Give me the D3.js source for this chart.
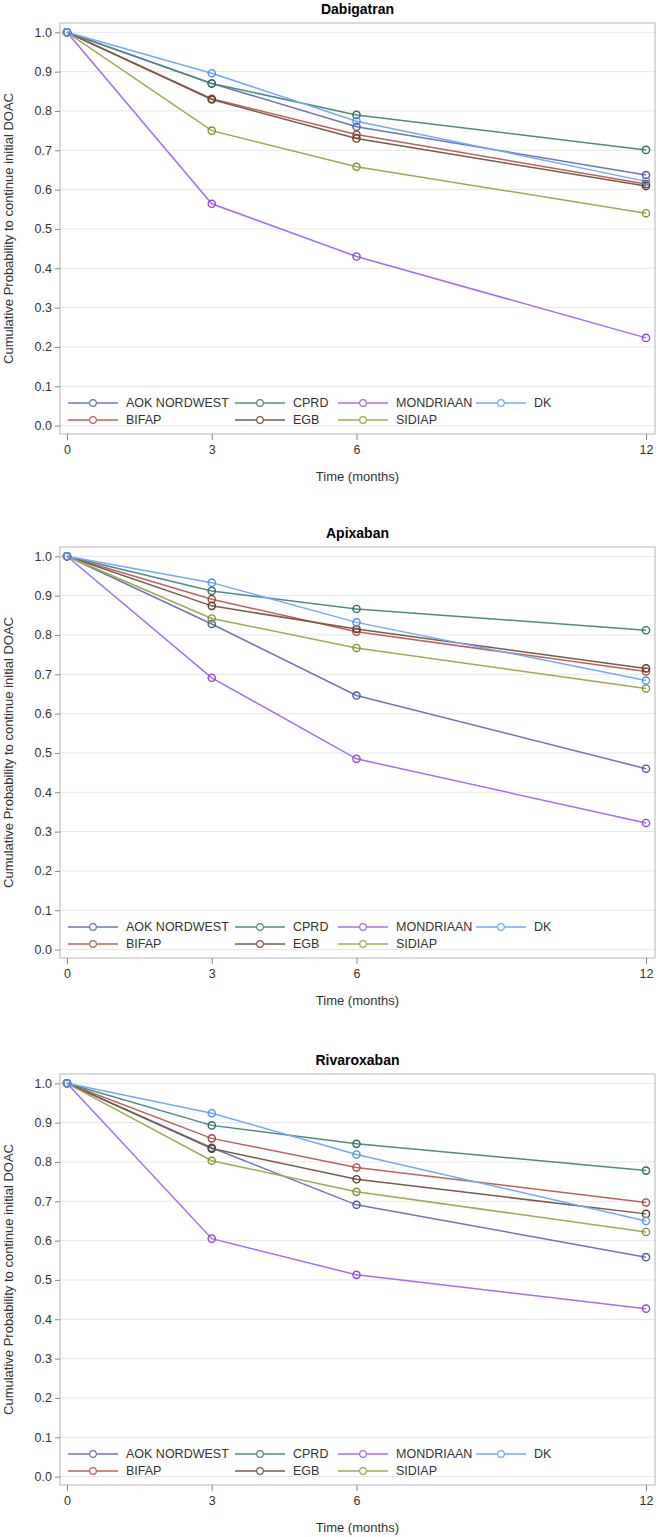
<!DOCTYPE html>
<html><head><meta charset="utf-8">
<script src="https://cdn.jsdelivr.net/npm/d3@7"></script>
<style>body{margin:0;background:#fff}svg{display:block}text{font-family:"Liberation Sans",Arial,sans-serif}</style>
</head><body>
<script>
const months = [0, 3, 6, 12];
const xTicks = [0, 3, 6, 12];
const yTicks = [0, 0.1, 0.2, 0.3, 0.4, 0.5, 0.6, 0.7, 0.8, 0.9, 1.0];
const seriesNames = ["AOK NORDWEST", "BIFAP", "CPRD", "EGB", "MONDRIAAN", "SIDIAP", "DK"];
const lineColors = ["#6a77b2", "#b8645d", "#4f8b80", "#7a5a48", "#a56ded", "#9cab52", "#72aaf7"];
const markerColors = ["#4d5a98", "#a5463c", "#2f6f66", "#5e3d22", "#9448dc", "#84932c", "#4b94f5"];
const drugs = ["Dabigatran", "Apixaban", "Rivaroxaban"];
// rows follow seriesNames order, columns follow months
const dabigatranValues = [
  [1, 0.870, 0.760, 0.637],
  [1, 0.831, 0.740, 0.614],
  [1, 0.870, 0.790, 0.701],
  [1, 0.829, 0.730, 0.609],
  [1, 0.564, 0.430, 0.223],
  [1, 0.750, 0.658, 0.540],
  [1, 0.896, 0.774, 0.621]
];
const apixabanValues = [
  [1, 0.828, 0.646, 0.460],
  [1, 0.891, 0.808, 0.707],
  [1, 0.912, 0.866, 0.812],
  [1, 0.874, 0.815, 0.715],
  [1, 0.691, 0.485, 0.322],
  [1, 0.842, 0.767, 0.664],
  [1, 0.933, 0.832, 0.684]
];
const rivaroxabanValues = [
  [1, 0.836, 0.691, 0.558],
  [1, 0.860, 0.786, 0.697],
  [1, 0.893, 0.846, 0.778],
  [1, 0.834, 0.756, 0.668],
  [1, 0.605, 0.513, 0.427],
  [1, 0.803, 0.724, 0.622],
  [1, 0.924, 0.819, 0.650]
];
const allValues = [dabigatranValues, apixabanValues, rivaroxabanValues];

const W = 660, H = 1537;
const svg = d3.select("body").append("svg").attr("width", W).attr("height", H);
const panelOffsets = [0, 524, 1051];
const frameL = 60, frameR = 655;

const x = d3.scaleLinear().domain([0, 12]).range([67, 646]);

drugs.forEach((drug, p) => {
  const off = panelOffsets[p];
  const g = svg.append("g").attr("transform", `translate(0,${off})`);
  const frameT = 23, frameB = 434;
  const y = d3.scaleLinear().domain([0, 1]).range([425.6, 32.3]);

  g.append("text").attr("x", (frameL + frameR) / 2).attr("y", 14)
    .attr("text-anchor", "middle").attr("font-size", 14).attr("font-weight", "bold")
    .attr("fill", "#000").text(drug);

  // gridlines
  g.append("g").selectAll("line").data(yTicks).join("line")
    .attr("x1", frameL).attr("x2", frameR)
    .attr("y1", d => y(d)).attr("y2", d => y(d))
    .attr("stroke", "#e6e6e6").attr("stroke-width", 1);

  // frame
  g.append("rect").attr("x", frameL).attr("y", frameT)
    .attr("width", frameR - frameL).attr("height", frameB - frameT)
    .attr("fill", "none").attr("stroke", "#b5b5b5").attr("stroke-width", 1);

  // y axis
  const yAxis = d3.axisLeft(y).tickValues(yTicks).tickFormat(d3.format(".1f")).tickSize(5).tickPadding(3);
  const ya = g.append("g").attr("transform", `translate(${frameL},0)`).call(yAxis);
  ya.select(".domain").remove();
  ya.selectAll("line").attr("stroke", "#888");
  ya.selectAll("text").attr("font-size", 12.5).attr("fill", "#333").style("font-family", '"Liberation Sans",Arial,sans-serif');

  // x axis
  const xAxis = d3.axisBottom(x).tickValues(xTicks).tickFormat(d3.format("d")).tickSize(6).tickPadding(5);
  const xa = g.append("g").attr("transform", `translate(0,${frameB})`).call(xAxis);
  xa.select(".domain").remove();
  xa.selectAll("line").attr("stroke", "#888");
  xa.selectAll("text").attr("font-size", 12.5).attr("fill", "#333").style("font-family", '"Liberation Sans",Arial,sans-serif');

  g.append("text").attr("x", (frameL + frameR) / 2).attr("y", 481)
    .attr("text-anchor", "middle").attr("font-size", 13).attr("fill", "#333").text("Time (months)");

  g.append("text").attr("transform", `translate(13,${(frameT + frameB) / 2}) rotate(-90)`)
    .attr("text-anchor", "middle").attr("font-size", 13).attr("fill", "#333")
    .text("Cumulative Probability to continue initial DOAC");

  // lines
  const vals = allValues[p];
  const line = d3.line().x((d, i) => x(months[i])).y(d => y(d));
  vals.forEach((row, s) => {
    g.append("path").datum(row).attr("d", line)
      .attr("fill", "none").attr("stroke", lineColors[s]).attr("stroke-width", 1.5);
  });
  vals.forEach((row, s) => {
    g.append("g").selectAll("circle").data(row).join("circle")
      .attr("cx", (d, i) => x(months[i])).attr("cy", d => y(d)).attr("r", 3.6)
      .attr("fill", "none").attr("stroke", markerColors[s]).attr("stroke-width", 1.4);
  });

  // legend
  const colX = [68, 235, 338, 476];
  const rowY = [403, 420];
  seriesNames.forEach((name, s) => {
    const col = Math.floor(s / 2), row = s % 2;
    const lx = colX[col], ly = rowY[row];
    const lg = g.append("g");
    lg.append("line").attr("x1", lx).attr("x2", lx + 50).attr("y1", ly).attr("y2", ly)
      .attr("stroke", lineColors[s]).attr("stroke-width", 1.5);
    lg.append("circle").attr("cx", lx + 25).attr("cy", ly).attr("r", 3.3)
      .attr("fill", "#fff").attr("stroke", lineColors[s]).attr("stroke-width", 1.2);
    lg.append("text").attr("x", lx + 58).attr("y", ly + 4.4)
      .attr("font-size", 12.5).attr("fill", "#333").text(name);
  });
});
</script>
</body></html>
